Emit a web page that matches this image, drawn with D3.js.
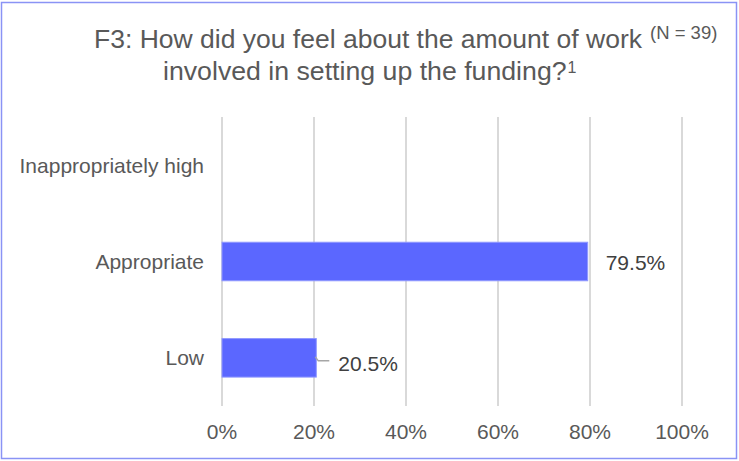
<!DOCTYPE html>
<meta charset='utf-8'>
<html>

<head>
    <title>F3 funding workload</title>
    <script src="https://cdn.jsdelivr.net/npm/d3@7"></script>
    <style>
        body {
            padding: 0;
            margin: 0;
            background: #fff;
        }

        svg text {
            font-family: "Liberation Sans", Arial, sans-serif;
        }
    </style>
</head>

<body>
    <div id="chart"></div>

    <script>
        // data
        var categories = ["Inappropriately high", "Appropriate", "Low"];
        var values = [null, 79.5, 20.5];
        var xTicks = [0, 20, 40, 60, 80, 100];

        var width = 739, height = 461;
        var svg = d3.select('#chart').append('svg')
            .attr('width', width)
            .attr('height', height);

        // frame
        svg.append('rect')
            .attr('x', 1.5).attr('y', 2.5)
            .attr('width', width - 4).attr('height', height - 5)
            .attr('fill', 'none')
            .attr('stroke', '#8a93f5')
            .attr('stroke-width', 1.5);

        // title
        svg.append('text')
            .attr('x', 94).attr('y', 48)
            .attr('fill', '#595959')
            .attr('font-size', 26.5)
            .text('F3: How did you feel about the amount of work');
        svg.append('text')
            .attr('x', 650).attr('y', 39)
            .attr('fill', '#595959')
            .attr('font-size', 18.5)
            .text('(N = 39)');
        var title2 = svg.append('text')
            .attr('x', 163).attr('y', 80)
            .attr('fill', '#595959')
            .attr('font-size', 26.7)
            .text('involved in setting up the funding?');
        var t2w = title2.node().getComputedTextLength();
        svg.append('text')
            .attr('x', 163 + t2w + 1).attr('y', 73)
            .attr('fill', '#595959')
            .attr('font-size', 16)
            .text('1');

        var x = d3.scaleLinear().domain([0, 100]).range([222, 682]);
        var y = d3.scaleBand().domain(categories).range([117, 406]).paddingInner(0.6).paddingOuter(0.3);
        var band = d3.scaleBand().domain(categories).range([117, 406]);

        // gridlines
        svg.append('g')
            .selectAll('line')
            .data(xTicks)
            .enter()
            .append('line')
            .attr('x1', function (d) { return x(d); })
            .attr('x2', function (d) { return x(d); })
            .attr('y1', 117)
            .attr('y2', 406)
            .attr('stroke', '#d9d9d9')
            .attr('stroke-width', 2);

        // x tick labels
        svg.append('g')
            .selectAll('text')
            .data(xTicks)
            .enter()
            .append('text')
            .attr('x', function (d) { return x(d); })
            .attr('y', 439)
            .attr('text-anchor', 'middle')
            .attr('font-size', 21)
            .attr('fill', '#595959')
            .text(function (d) { return d + '%'; });

        // category labels
        svg.append('g')
            .selectAll('text')
            .data(categories)
            .enter()
            .append('text')
            .attr('x', 204)
            .attr('y', function (d) { return band(d) + band.bandwidth() / 2 + 7.5; })
            .attr('text-anchor', 'end')
            .attr('font-size', 21)
            .attr('fill', '#595959')
            .text(function (d) { return d; });

        var rows = categories.map(function (c, i) { return { cat: c, v: values[i] }; })
            .filter(function (d) { return d.v != null; });

        // bars
        svg.append('g')
            .selectAll('rect')
            .data(rows)
            .enter()
            .append('rect')
            .attr('x', x(0))
            .attr('y', function (d) { return y(d.cat); })
            .attr('width', function (d) { return x(d.v) - x(0); })
            .attr('height', y.bandwidth())
            .attr('fill', '#5b67ff')
            .attr('stroke', '#8f98ff')
            .attr('stroke-width', 1);

        // value labels
        rows.forEach(function (d) {
            var cy = y(d.cat) + y.bandwidth() / 2;
            var lx, ly;
            if (d.v < 30) {
                // leader line for the short bar
                svg.append('path')
                    .attr('d', 'M' + (x(d.v) - 1) + ',' + (cy - 1) + 'L' + (x(d.v) + 2) + ',' + (cy + 3) + 'L' + (x(d.v) + 13) + ',' + (cy + 3))
                    .attr('fill', 'none')
                    .attr('stroke', '#a6a6a6')
                    .attr('stroke-width', 1.5);
                lx = x(d.v) + 22;
                ly = cy + 13;
            } else {
                lx = x(d.v) + 18;
                ly = cy + 8.5;
            }
            svg.append('text')
                .attr('x', lx)
                .attr('y', ly)
                .attr('font-size', 21)
                .attr('fill', '#404040')
                .text(d.v.toFixed(1) + '%');
        });
    </script>
</body>

</html>
